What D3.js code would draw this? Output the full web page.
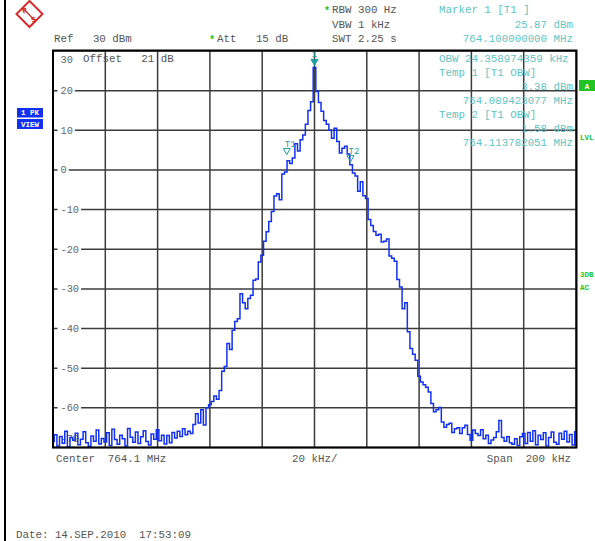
<!DOCTYPE html>
<html><head><meta charset="utf-8">
<script src="https://cdn.jsdelivr.net/npm/d3@7"></script>
<style>
html,body{margin:0;padding:0;background:#fff;}
svg{display:block;}
text{font-family:"Liberation Mono","Courier New",monospace;}
</style></head><body>
<svg id="chart" width="595" height="541"></svg>
<script>
// Sweep: 764.1 MHz centre, 200 kHz span, one point per kHz
const freqKHz = d3.range(-100, 101);
const levelDbm = [
  -68.5, -66.8, -69.6, -67.2, -68.9, -65.9, -69.8, -67.5, -68.2, -66.4,
  -69.3, -67.9, -66.0, -68.8, -69.7, -67.1, -68.4, -65.6, -69.1, -67.7,
  -68.6, -66.3, -69.5, -65.4, -68.0, -69.2, -66.9, -67.8, -69.6, -65.2,
  -67.4, -68.7, -66.1, -69.0, -67.3, -65.8, -68.5, -69.4, -66.6, -67.9,
  -65.5, -68.3, -66.9, -69.1, -67.0, -68.8, -66.2, -67.6, -65.9, -67.2,
  -65.3, -66.8, -65.9, -66.5, -64.2, -61.5, -63.8, -60.5, -64.3, -60.0,
  -59.2, -58.4, -57.0, -57.8, -55.6, -50.8, -49.6, -43.8, -45.3, -40.4,
  -38.2, -37.5, -31.2, -33.5, -35.0, -32.4, -31.6, -27.8, -27.5, -23.2,
  -21.5, -18.0, -15.6, -13.0, -10.5, -6.6, -6.0, -7.5, -1.0, -0.5,
  2.3, 1.6, 3.0, 6.6, 4.8, 7.6, 8.8, 11.5, 15.0, 17.2,
  25.87,
  19.8, 17.0, 14.8, 12.5, 11.5, 10.0, 8.0, 10.5, 7.2, 4.3,
  5.5, 6.0, 4.0, 1.3, -0.8, -1.5, -5.4, -3.0, -6.5, -7.2,
  -12.5, -14.0, -15.5, -16.5, -16.2, -18.2, -18.0, -17.4, -21.7, -22.3,
  -23.0, -27.6, -29.5, -35.0, -33.5, -40.8, -45.0, -46.5, -48.0, -52.0,
  -53.5, -54.2, -54.8, -56.0, -58.9, -61.0, -60.5, -59.9, -63.6, -64.9,
  -64.2, -63.9, -66.2, -65.3, -65.0, -66.5, -65.0, -64.4, -66.7, -68.2,
  -65.6, -66.5, -67.0, -65.5, -67.8, -66.9, -69.0, -68.1, -67.5, -66.0,
  -63.2, -67.5, -68.4, -67.3, -68.8, -69.2, -67.8, -69.5, -67.3,
  -66.5, -69.0, -66.2, -68.4, -65.8, -69.3, -66.9, -68.0, -66.3, -69.6,
  -67.5, -66.1, -68.7, -69.2, -66.4, -67.9, -65.9, -68.6, -66.7, -69.4,
  -66.0
];
const levelTicks = [30, 20, 10, 0, -10, -20, -30, -40, -50, -60, -70];
const freqGrid = [-100, -80, -60, -40, -20, 0, 20, 40, 60, 80, 100];
const markerNames = ["1", "T1", "T2"];
const markerFreqKHz = [0, -10.576923, 13.782051];
const markerLevels = [25.87, 3.38, 1.58];

const svg = d3.select("#chart");
const x = d3.scaleLinear().domain([-100, 100]).range([53, 576]);
const y = d3.scaleLinear().domain([-70, 30]).range([447.5, 51]);

const GRAY = "#555", CYAN = "#5fc4c4", TEAL = "#1f9e9e", GREEN = "#22c322", BLUE = "#1230f0";

// page border on the left
svg.append("line").attr("x1", 5).attr("x2", 5).attr("y1", 0).attr("y2", 541)
  .attr("stroke", "#000").attr("stroke-width", 2);

// R&S logo
const logo = svg.append("g").attr("transform", "translate(29.5,14)");
logo.append("path").attr("d", "M0,-13 L13,0 L0,13 L-13,0 Z")
  .attr("fill", "none").attr("stroke", "#d32a2a").attr("stroke-width", 2);
logo.append("path").attr("d", "M-7,-6 L6,7")
  .attr("stroke", "#d32a2a").attr("stroke-width", 1.2);
logo.append("text").attr("x", -5).attr("y", -1).attr("font-size", 8).attr("font-weight", "bold")
  .attr("fill", "#d32a2a").attr("text-anchor", "middle").attr("transform", "rotate(-20,-5,-4)").text("R");
logo.append("text").attr("x", 4).attr("y", 8).attr("font-size", 8).attr("font-weight", "bold")
  .attr("fill", "#d32a2a").attr("text-anchor", "middle").attr("transform", "rotate(-20,4,5)").text("S");

// header text
const hdr = (tx, ty, s, col, anchor) => svg.append("text").attr("x", tx).attr("y", ty)
  .attr("font-size", 10.8).attr("fill", col).attr("text-anchor", anchor || "start")
  .style("white-space", "pre").text(s);
hdr(54, 42, "Ref   30 dBm", GRAY);
hdr(217, 42, "Att   15 dB", GRAY);
hdr(332, 13, "RBW 300 Hz", GRAY);
hdr(332, 28, "VBW 1 kHz", GRAY);
hdr(332, 42, "SWT 2.25 s", GRAY);
svg.append("text").attr("x", 212).attr("y", 43).attr("font-size", 10).attr("font-weight", "bold")
  .attr("fill", GREEN).attr("text-anchor", "middle").text("*");
svg.append("text").attr("x", 327).attr("y", 14).attr("font-size", 10).attr("font-weight", "bold")
  .attr("fill", GREEN).attr("text-anchor", "middle").text("*");

// grid
const grid = svg.append("g");
grid.selectAll("line.h").data(levelTicks).join("line").attr("class", "h")
  .attr("x1", 53).attr("x2", 576).attr("y1", d => y(d)).attr("y2", d => y(d))
  .attr("stroke", "#3c3c3c").attr("stroke-width", 1.5);
grid.selectAll("line.v").data(freqGrid).join("line").attr("class", "v")
  .attr("x1", d => x(d)).attr("x2", d => x(d)).attr("y1", 51).attr("y2", 447.5)
  .attr("stroke", "#3c3c3c").attr("stroke-width", 1.5);

// level labels sitting on the grid lines
const lab = svg.append("g");
levelTicks.forEach(v => {
  let ly = y(v);
  if (v === 30) ly += 8;
  if (v === -70) ly -= 9;
  const s = String(v);
  const w = s.length * 6.2;
  if (v !== 30 && v !== -70) {
    lab.append("rect").attr("x", 57.5).attr("y", ly - 5).attr("width", w + 5).attr("height", 10).attr("fill", "#fff");
  }
  lab.append("text").attr("x", 60.5).attr("y", ly + 3.5).attr("font-size", 10.3)
    .attr("fill", "#666").text(s);
});
hdr(83, 62, "Offset   21 dB", GRAY);

// marker readout
hdr(439, 13, "Marker 1 [T1 ]", CYAN);
hdr(573, 28, "25.87 dBm", CYAN, "end");
hdr(573, 42, "764.100000000 MHz", CYAN, "end");
hdr(439, 62, "OBW 24.358974359 kHz", CYAN);
hdr(439, 76, "Temp 1 [T1 OBW]", CYAN);
hdr(573, 90, "3.38 dBm", CYAN, "end");
hdr(573, 104, "764.089423077 MHz", CYAN, "end");
hdr(439, 118, "Temp 2 [T1 OBW]", CYAN);
hdr(573, 132, "1.58 dBm", CYAN, "end");
hdr(573, 146, "764.113782051 MHz", CYAN, "end");

// trace, drawn as a stepped sweep
svg.append("clipPath").attr("id", "plotclip").append("rect")
  .attr("x", 53).attr("y", 51).attr("width", 523).attr("height", 396.5);
const line = d3.line().x((d, i) => x(freqKHz[i])).y(d => y(d)).curve(d3.curveStep);
svg.append("path").datum(levelDbm).attr("clip-path", "url(#plotclip)")
  .attr("d", line).attr("fill", "none").attr("stroke", BLUE).attr("stroke-width", 1.5);

// markers
markerNames.forEach((name, i) => {
  const mx = x(markerFreqKHz[i]), my = y(markerLevels[i]) - 2;
  const filled = i === 0;
  svg.append("path").attr("d", `M${mx - 3.5},${my - 6} L${mx + 3.5},${my - 6} L${mx},${my} Z`)
    .attr("fill", filled ? TEAL : "none").attr("stroke", TEAL).attr("stroke-width", 1);
  svg.append("text").attr("x", filled ? mx : mx - 2).attr("y", my - 8)
    .attr("font-size", 9).attr("fill", TEAL).attr("text-anchor", filled ? "middle" : "start").text(name);
});

// frame
svg.append("rect").attr("x", 53).attr("y", 50.5).attr("width", 523.5).attr("height", 397)
  .attr("fill", "none").attr("stroke", "#000").attr("stroke-width", 2);

// side badges
const badge = (bx, by, w, h, fill, s) => {
  svg.append("rect").attr("x", bx).attr("y", by).attr("width", w).attr("height", h).attr("fill", fill);
  svg.append("text").attr("x", bx + w / 2).attr("y", by + h - 2.5).attr("font-size", 7.5)
    .attr("font-weight", "bold").attr("fill", "#fff").attr("text-anchor", "middle")
    .style("white-space", "pre").text(s);
};
badge(17, 108, 26, 9.5, BLUE, "1 PK");
badge(17, 119, 26, 10, BLUE, "VIEW");
badge(579, 80, 16, 11, GREEN, "A");
const side = (ty, s) => svg.append("text").attr("x", 580).attr("y", ty).attr("font-size", 7.5)
  .attr("font-weight", "bold").attr("fill", GREEN).text(s);
side(140, "LVL");
side(277, "3DB");
side(290, "AC");

// footer
hdr(56, 462, "Center  764.1 MHz", GRAY);
hdr(292, 462, "20 kHz/", GRAY);
hdr(571, 462, "Span  200 kHz", GRAY, "end");
hdr(16, 538, "Date: 14.SEP.2010  17:53:09", GRAY);
</script>
</body></html>
